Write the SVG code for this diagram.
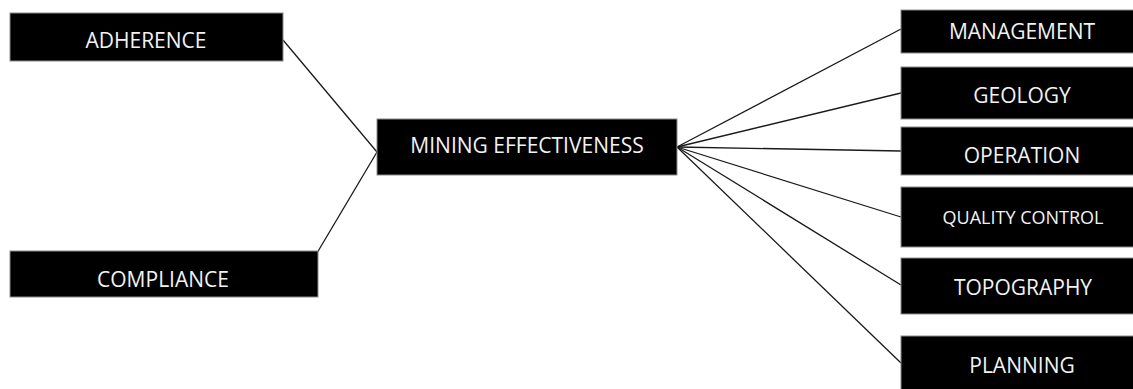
<svg xmlns="http://www.w3.org/2000/svg" width="1133" height="389" viewBox="0 0 1133 389">
<style>
.box{fill:#000;stroke:#8c8c8c;stroke-width:1}
.t{fill:#f2f2f2;font-family:"Open Sans","Noto Sans",sans-serif;font-size:21px;text-anchor:middle}
.s{font-size:18px}
.c{stroke:#1a1a1a;stroke-width:1.3;fill:none}
</style>
<rect width="1133" height="389" fill="#fff"/>
<g id="connectors">
<line class="c" x1="283" y1="40" x2="377" y2="152"/>
<line class="c" x1="317" y1="253" x2="377" y2="152"/>
<line class="c" x1="677" y1="147" x2="901" y2="29"/>
<line class="c" x1="677" y1="147" x2="901" y2="93"/>
<line class="c" x1="677" y1="147" x2="901" y2="151"/>
<line class="c" x1="677" y1="147" x2="901" y2="217"/>
<line class="c" x1="677" y1="147" x2="901" y2="285"/>
<line class="c" x1="677" y1="147" x2="901" y2="363"/>
</g>
<g id="adherence"><rect class="box" x="10" y="13" width="273" height="48"/><text class="t" x="146" y="48">ADHERENCE</text></g>
<g id="compliance"><rect class="box" x="10" y="251" width="308" height="46"/><text class="t" x="163" y="287">COMPLIANCE</text></g>
<g id="mining"><rect class="box" x="377" y="119" width="300" height="56"/><text class="t" x="527" y="153">MINING EFFECTIVENESS</text></g>
<g id="management"><rect class="box" x="901" y="10" width="240" height="43"/><text class="t" x="1022" y="39">MANAGEMENT</text></g>
<g id="geology"><rect class="box" x="901" y="67" width="240" height="52"/><text class="t" x="1022" y="103">GEOLOGY</text></g>
<g id="operation"><rect class="box" x="901" y="127" width="240" height="48"/><text class="t" x="1022" y="163">OPERATION</text></g>
<g id="quality"><rect class="box" x="901" y="187" width="240" height="60"/><text class="t s" x="1023" y="224">QUALITY CONTROL</text></g>
<g id="topography"><rect class="box" x="901" y="258" width="240" height="56"/><text class="t" x="1023" y="295">TOPOGRAPHY</text></g>
<g id="planning"><rect class="box" x="901" y="336" width="240" height="60"/><text class="t" x="1022" y="373">PLANNING</text></g>
</svg>
